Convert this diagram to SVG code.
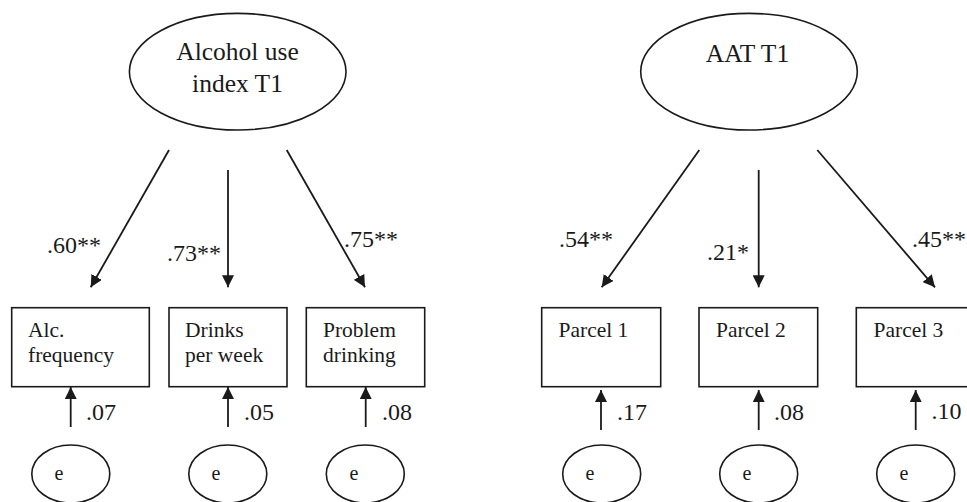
<svg xmlns="http://www.w3.org/2000/svg" width="967" height="502" viewBox="0 0 967 502">
<style>
  .shape { fill: #ffffff; stroke: #1a1a1a; stroke-width: 1.6; }
  .conn { stroke: #1a1a1a; stroke-width: 1.8; fill: none; marker-end: url(#ah); }
  text { font-family: "Liberation Serif", "Times New Roman", serif; fill: #1a1a1a; }
  .lat { font-size: 25.5px; text-anchor: middle; }
  .obs { font-size: 21.5px; }
  .coef { font-size: 24px; }
  .err { font-size: 20px; }
</style>
<defs>
  <marker id="ah" markerUnits="userSpaceOnUse" markerWidth="13" markerHeight="12" refX="12" refY="6" orient="auto">
    <path d="M0,0 L12,6 L0,12 z" fill="#1a1a1a"/>
  </marker>
</defs>
<rect width="967" height="502" fill="#ffffff"/>

<g id="alcohol-use-index">
  <ellipse class="shape" cx="237.7" cy="71.7" rx="108.3" ry="58.3"/>
  <text class="lat" x="237.5" y="60">Alcohol use</text>
  <text class="lat" x="237.5" y="92">index T1</text>
</g>
<g id="aat-t1">
  <ellipse class="shape" cx="749" cy="71.7" rx="108.3" ry="58.3"/>
  <text class="lat" x="747.5" y="62">AAT T1</text>
</g>

<g id="alc-frequency">
  <rect class="shape" x="11.7" y="307.7" width="137.6" height="79"/>
  <text class="obs" x="28" y="337.3">Alc.</text>
  <text class="obs" x="28" y="361.7">frequency</text>
</g>
<g id="drinks-per-week">
  <rect class="shape" x="169" y="307.7" width="118" height="79"/>
  <text class="obs" x="185" y="337.3">Drinks</text>
  <text class="obs" x="185" y="361.7">per week</text>
</g>
<g id="problem-drinking">
  <rect class="shape" x="306.3" y="307.7" width="118.4" height="79"/>
  <text class="obs" x="323" y="337.3">Problem</text>
  <text class="obs" x="323" y="361.7">drinking</text>
</g>
<g id="parcel-1">
  <rect class="shape" x="541.7" y="307.7" width="119" height="79"/>
  <text class="obs" x="558.5" y="337.3">Parcel 1</text>
</g>
<g id="parcel-2">
  <rect class="shape" x="699" y="307.7" width="118.7" height="79"/>
  <text class="obs" x="716" y="337.3">Parcel 2</text>
</g>
<g id="parcel-3">
  <rect class="shape" x="856.3" y="307.7" width="118.7" height="79"/>
  <text class="obs" x="873.5" y="337.3">Parcel 3</text>
</g>

<g id="e1"><ellipse class="shape" cx="70.8" cy="474" rx="39" ry="29"/><text class="err" x="54.5" y="480">e</text></g>
<g id="e2"><ellipse class="shape" cx="227.8" cy="474" rx="39" ry="29"/><text class="err" x="211.5" y="480">e</text></g>
<g id="e3"><ellipse class="shape" cx="365.3" cy="474" rx="39" ry="29"/><text class="err" x="349.5" y="480">e</text></g>
<g id="e4"><ellipse class="shape" cx="601.7" cy="474" rx="39" ry="29"/><text class="err" x="585.5" y="480">e</text></g>
<g id="e5"><ellipse class="shape" cx="758.7" cy="474" rx="39" ry="29"/><text class="err" x="742.5" y="480">e</text></g>
<g id="e6"><ellipse class="shape" cx="915.7" cy="474" rx="39" ry="29"/><text class="err" x="899.5" y="480">e</text></g>

<g id="connectors">
  <line class="conn" x1="169" y1="150" x2="90.7" y2="287.3"/>
  <line class="conn" x1="228" y1="170" x2="228" y2="287.3"/>
  <line class="conn" x1="286.7" y1="150" x2="365" y2="287.3"/>
  <line class="conn" x1="699.3" y1="150" x2="601.7" y2="287.3"/>
  <line class="conn" x1="758.7" y1="170" x2="758.7" y2="287.3"/>
  <line class="conn" x1="817.3" y1="150" x2="935" y2="287.3"/>
  <line class="conn" x1="70.7" y1="427" x2="70.7" y2="387"/>
  <line class="conn" x1="228" y1="427" x2="228" y2="387"/>
  <line class="conn" x1="365.7" y1="427" x2="365.7" y2="387"/>
  <line class="conn" x1="601" y1="430" x2="601" y2="390"/>
  <line class="conn" x1="758.7" y1="430" x2="758.7" y2="390"/>
  <line class="conn" x1="915.7" y1="430" x2="915.7" y2="390"/>
  <text class="coef" x="47" y="253">.60**</text>
  <text class="coef" x="167" y="261">.73**</text>
  <text class="coef" x="344" y="247">.75**</text>
  <text class="coef" x="559" y="247">.54**</text>
  <text class="coef" x="707" y="260">.21*</text>
  <text class="coef" x="912" y="247">.45**</text>
  <text class="coef" x="86" y="420">.07</text>
  <text class="coef" x="244" y="420">.05</text>
  <text class="coef" x="382" y="420">.08</text>
  <text class="coef" x="617" y="420">.17</text>
  <text class="coef" x="774" y="420">.08</text>
  <text class="coef" x="931.5" y="419">.10</text>
</g>
</svg>
